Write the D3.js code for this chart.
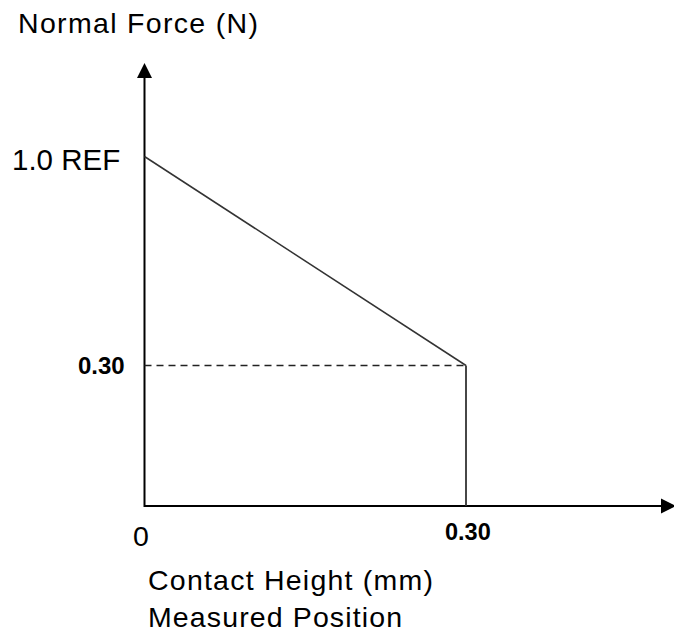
<!DOCTYPE html>
<html>
<head>
<meta charset="utf-8">
<script src="https://cdn.jsdelivr.net/npm/d3@7"></script>
<style>
  html, body { margin: 0; padding: 0; background: #fff; }
  text { font-family: "Liberation Sans", Arial, sans-serif; fill: #000; }
</style>
</head>
<body>
<svg id="chart" width="674" height="634"></svg>
<script>
// ---- data ----
const forceCurveX = [0, 0.30];          // contact height (mm)
const forceCurveY = [1.0, 0.30];        // normal force (N)
const dropX = [0.30, 0.30];             // vertical drop at 0.30 mm
const dropY = [0.30, 0];
const refX = [0, 0.30];                 // dashed reference at 0.30 N
const refY = [0.30, 0.30];
const yTickValues = [1.0, 0.30];
const yTickLabels = ["1.0 REF", "0.30"];
const xTickValues = [0, 0.30];
const xTickLabels = ["0", "0.30"];
const yTitle = "Normal Force (N)";
const xTitleLines = ["Contact Height (mm)", "Measured Position"];

// ---- scales (schematic, not to scale on y) ----
const x = d3.scaleLinear().domain([0, 0.30]).range([144.5, 466]);
const y = d3.scaleLinear().domain([0, 0.30, 1.0]).range([506, 365.5, 156.5]);

const svg = d3.select("#chart");

// axes lines
const xEnd = 664, yTop = 76;
svg.append("line").attr("x1", x(0)).attr("y1", y(0)).attr("x2", xEnd).attr("y2", y(0))
  .attr("stroke", "#000").attr("stroke-width", 2);
svg.append("line").attr("x1", x(0)).attr("y1", y(0) + 1).attr("x2", x(0)).attr("y2", yTop)
  .attr("stroke", "#000").attr("stroke-width", 2);
// arrowheads
svg.append("path").attr("d", `M${x(0)},63 L${x(0) - 7.5},78 L${x(0) + 7.5},78 Z`).attr("fill", "#000");
svg.append("path").attr("d", `M676,${y(0)} L661,${y(0) - 7.5} L661,${y(0) + 7.5} Z`).attr("fill", "#000");

const line = d3.line().x(d => x(d[0])).y(d => y(d[1]));
const zip = (a, b) => a.map((v, i) => [v, b[i]]);

// dashed reference
svg.append("path").attr("d", line(zip(refX, refY)))
  .attr("fill", "none").attr("stroke", "#222").attr("stroke-width", 1.5)
  .attr("stroke-dasharray", "7,5");
// force curve
svg.append("path").attr("d", line(zip(forceCurveX, forceCurveY)))
  .attr("fill", "none").attr("stroke", "#333").attr("stroke-width", 1.5);
// vertical drop
svg.append("path").attr("d", line(zip(dropX, dropY)))
  .attr("fill", "none").attr("stroke", "#333").attr("stroke-width", 1.8);

// text, optionally widened with letter-spacing to match the target's wider rendering
function label(xp, yp, size, txt, len, bold) {
  const t = svg.append("text").attr("x", xp).attr("y", yp)
    .attr("font-size", size).text(txt);
  if (bold) t.attr("font-weight", "bold");
  if (len && txt.length > 1) {
    const w = t.node().getComputedTextLength();
    const ls = (len - w) / (txt.length - 1);
    if (ls > 0) t.style("letter-spacing", ls + "px");
  }
  return t;
}

// y tick labels
label(12, y(yTickValues[0]) + 13.5, 29.5, yTickLabels[0]);
label(78, y(yTickValues[1]) + 8.5, 24, yTickLabels[1], null, true);

// x tick labels
label(x(xTickValues[0]) - 11.5, 546, 28.5, xTickLabels[0]);
label(x(xTickValues[1]) - 21, 540, 23.5, xTickLabels[1], null, true);

// titles
label(18, 33, 28.5, yTitle, 240);
label(148, 590, 28.5, xTitleLines[0], 285);
label(148, 627, 28.5, xTitleLines[1], 254);
</script>
</body>
</html>
